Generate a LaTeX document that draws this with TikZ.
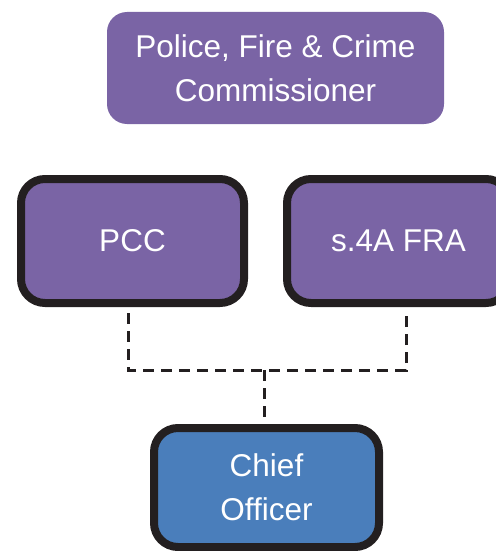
\documentclass[tikz,border=0pt]{standalone}
\usepackage{fontspec}
\setmainfont{Liberation Sans}
\definecolor{boxpurple}{RGB}{122,100,165}
\definecolor{boxblue}{RGB}{74,126,187}
\definecolor{edgedark}{RGB}{35,31,32}
\begin{document}
\begin{tikzpicture}[x=1pt,y=1pt,
  lbl/.style={text=white,font=\fontsize{31.5}{44}\selectfont,align=center,inner sep=0pt},
  topbox/.style={lbl,fill=boxpurple,rounded corners=20pt,minimum width=337pt,minimum height=112pt},
  bodybox/.style={lbl,draw=edgedark,line width=8pt,rounded corners=24pt,minimum width=223pt,minimum height=124pt},
  conn/.style={draw=edgedark,line width=3pt,dash pattern=on 11pt off 7pt}
]
\useasboundingbox (0,0) rectangle (495,-551);
\node[topbox] (pfcc) at (275.5,-68) {Police, Fire \& Crime\\Commissioner};
\node[bodybox,fill=boxpurple] (pcc) at (132.5,-241) {PCC};
\node[bodybox,fill=boxpurple] (fra) at (398.5,-241) {s.4A FRA};
\node[bodybox,fill=boxblue,minimum width=225pt,minimum height=119pt] (chief) at (266.5,-487.5) {Chief\\Officer};
\coordinate (lj) at (128,-370);
\coordinate (rj) at (406,-370);
\coordinate (j) at (264,-370);
\draw[conn] (pcc.south -| lj) ++(0,-6) -- (lj) -- (rj) -- ([yshift=-6pt]fra.south -| rj);
\draw[conn,shorten >=6pt] (j) -- (chief.north -| j);
\end{tikzpicture}
\end{document}
